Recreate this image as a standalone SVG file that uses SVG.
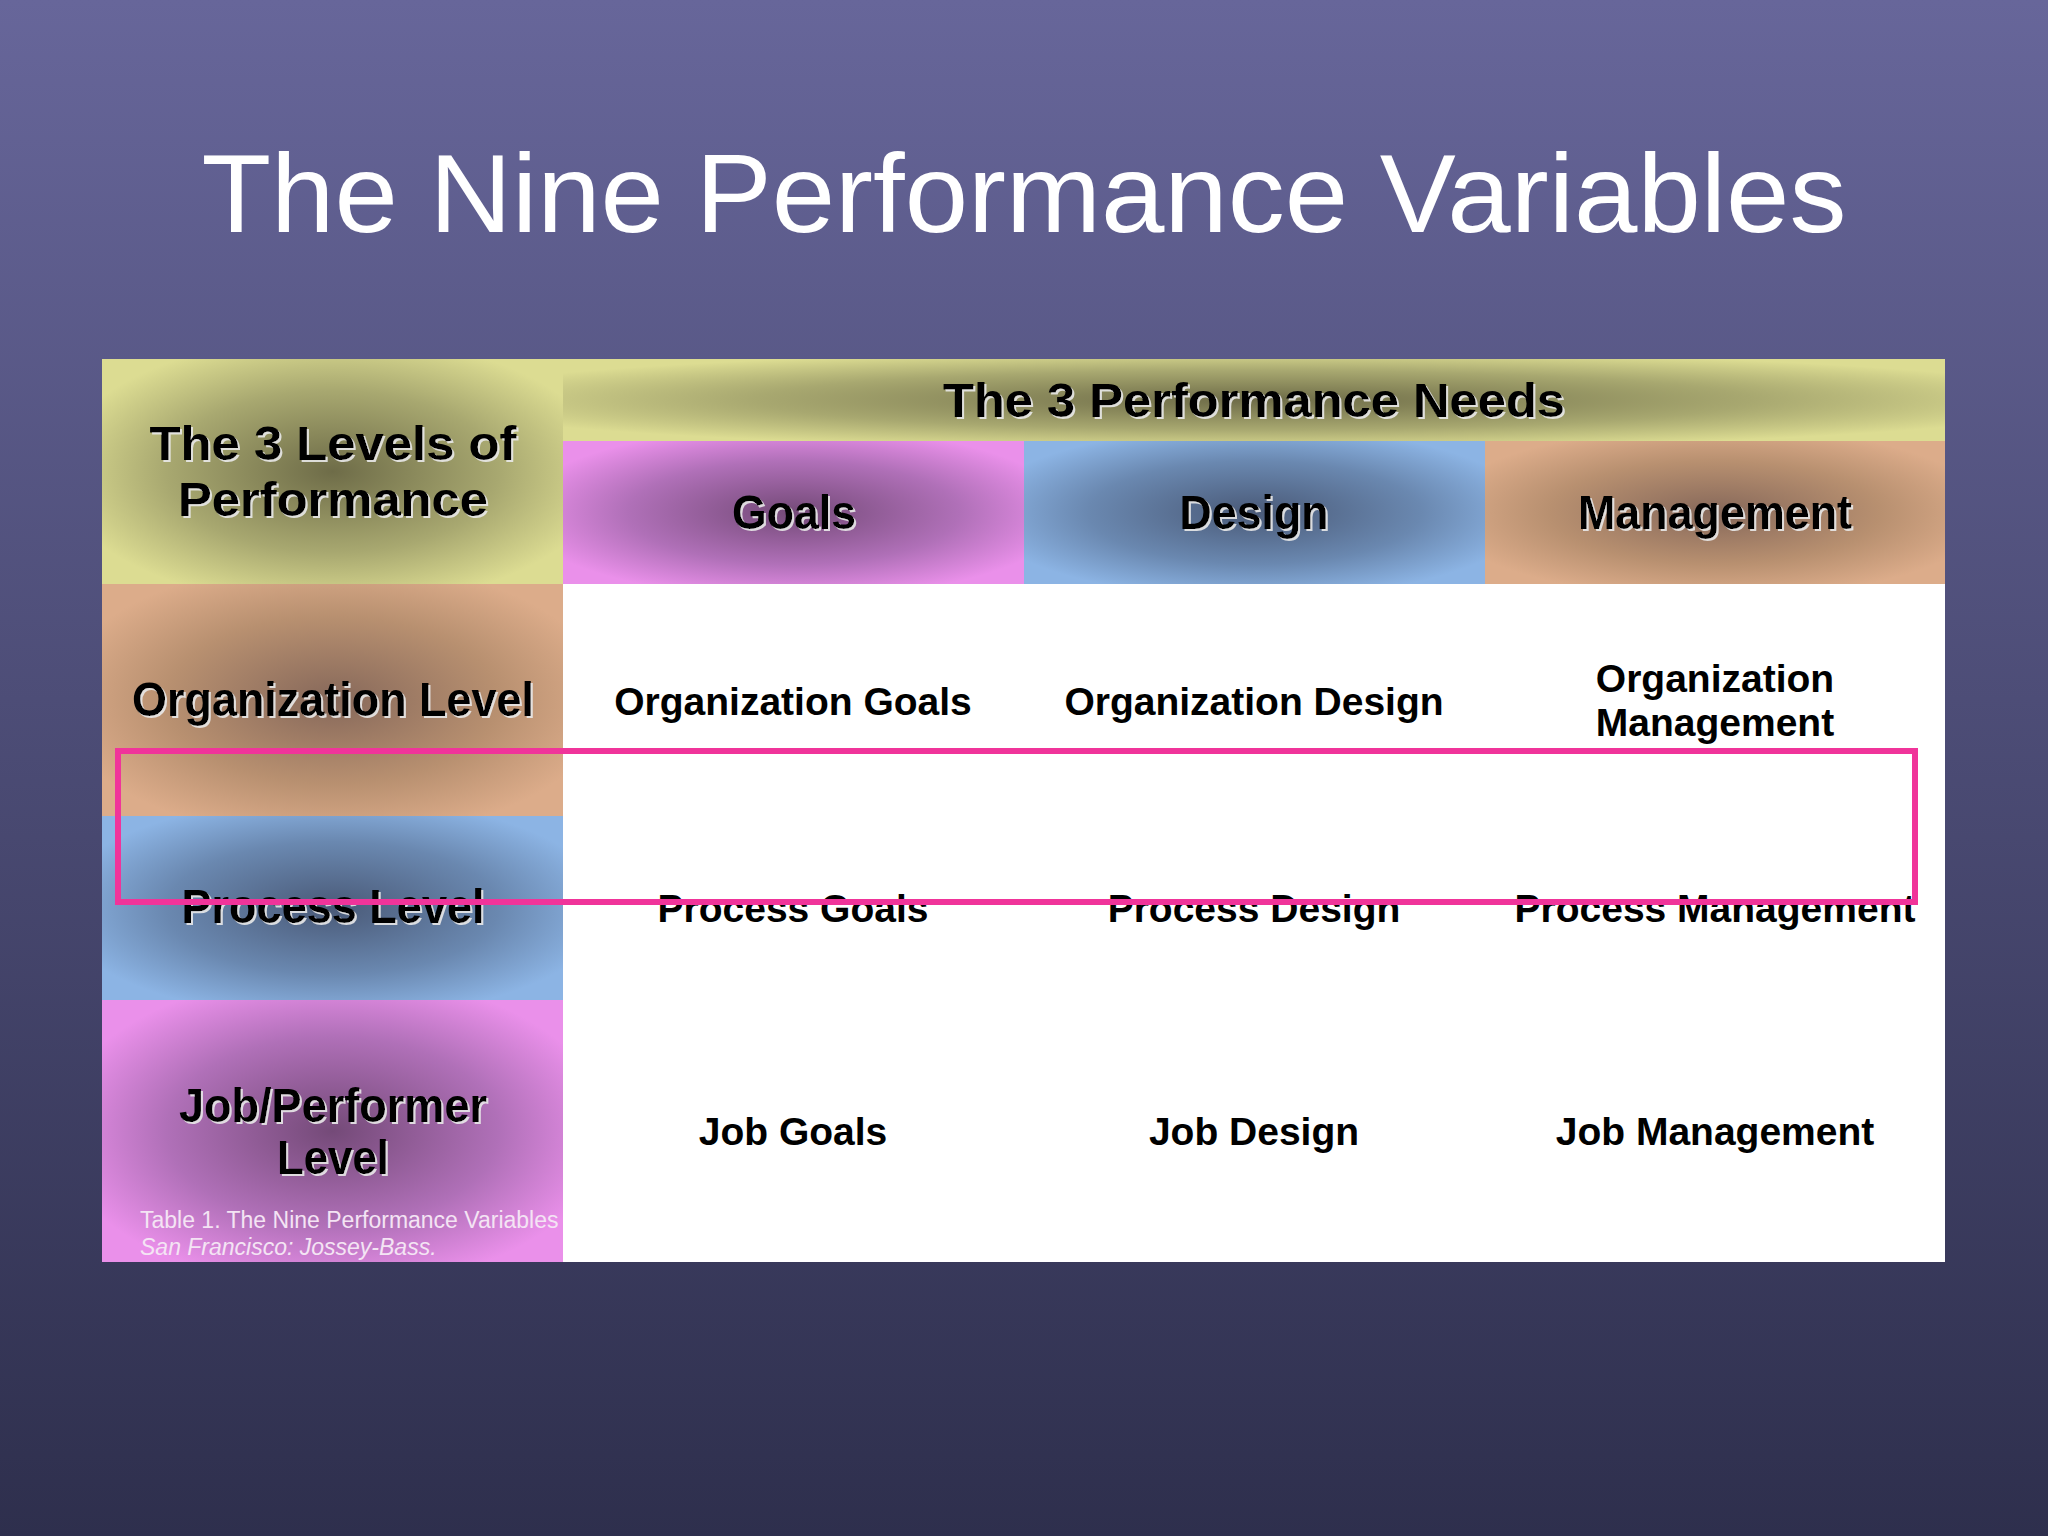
<svg xmlns="http://www.w3.org/2000/svg" width="2048" height="1536" viewBox="0 0 2048 1536">
<defs>
<linearGradient id="bg" x1="0" y1="0" x2="0" y2="1"><stop offset="0" stop-color="#67669a"/><stop offset="1" stop-color="#2e2f4d"/></linearGradient>
<radialGradient id="gy" cx="0.5" cy="0.5" r="0.6"><stop offset="0" stop-color="#6e6c48"/><stop offset="0.6" stop-color="#a8a870"/><stop offset="1" stop-color="#dcdc92"/></radialGradient>
<radialGradient id="gp" cx="0.5" cy="0.5" r="0.6"><stop offset="0" stop-color="#744a78"/><stop offset="0.6" stop-color="#b070b8"/><stop offset="1" stop-color="#ea90ea"/></radialGradient>
<radialGradient id="gb" cx="0.5" cy="0.5" r="0.6"><stop offset="0" stop-color="#4a5a78"/><stop offset="0.6" stop-color="#6a88b0"/><stop offset="1" stop-color="#8cb4e4"/></radialGradient>
<radialGradient id="gt" cx="0.5" cy="0.5" r="0.6"><stop offset="0" stop-color="#86685a"/><stop offset="0.6" stop-color="#b89070"/><stop offset="1" stop-color="#dcac8a"/></radialGradient>
<filter id="sh"><feDropShadow dx="2" dy="2" stdDeviation="0.5" flood-color="#e8e8e8" flood-opacity="0.9"/></filter>
</defs>
<style>
.h{font-family:"Liberation Sans",Arial,sans-serif;font-weight:bold;font-size:48px;fill:#000;text-anchor:middle;filter:url(#sh)}
.c{font-family:"Liberation Sans",Arial,sans-serif;font-weight:bold;font-size:39px;fill:#000;text-anchor:middle}
.cap{font-family:"Liberation Sans",Arial,sans-serif;font-size:23px;fill:#f4e4f4}
</style>
<rect width="2048" height="1536" fill="url(#bg)"/>
<text x="1024" y="232" font-family="'Liberation Sans',Arial,sans-serif" font-size="112" fill="#fff" text-anchor="middle" textLength="1645" lengthAdjust="spacingAndGlyphs">The Nine Performance Variables</text>
<g id="table">
<rect x="563" y="584" width="1382" height="678" fill="#fff"/>
<g id="levels-header"><rect x="102" y="359" width="461" height="225" fill="url(#gy)"/><text class="h" x="333" y="460" textLength="367" lengthAdjust="spacingAndGlyphs">The 3 Levels of</text><text class="h" x="333" y="516" textLength="310" lengthAdjust="spacingAndGlyphs">Performance</text></g>
<g id="needs-header"><rect x="563" y="359" width="1382" height="82" fill="url(#gy)"/><text class="h" x="1254" y="417" textLength="622" lengthAdjust="spacingAndGlyphs">The 3 Performance Needs</text></g>
<g id="goals"><rect x="563" y="441" width="461" height="143" fill="url(#gp)"/><text class="h" x="794" y="529" textLength="124" lengthAdjust="spacingAndGlyphs">Goals</text></g>
<g id="design"><rect x="1024" y="441" width="461" height="143" fill="url(#gb)"/><text class="h" x="1254" y="529" textLength="149" lengthAdjust="spacingAndGlyphs">Design</text></g>
<g id="management"><rect x="1485" y="441" width="460" height="143" fill="url(#gt)"/><text class="h" x="1715" y="529" textLength="274" lengthAdjust="spacingAndGlyphs">Management</text></g>
<g id="org-level"><rect x="102" y="584" width="461" height="232" fill="url(#gt)"/><text class="h" x="333" y="716" textLength="402" lengthAdjust="spacingAndGlyphs">Organization Level</text></g>
<g id="process-level"><rect x="102" y="816" width="461" height="184" fill="url(#gb)"/><text class="h" x="333" y="923" textLength="303" lengthAdjust="spacingAndGlyphs">Process Level</text></g>
<g id="job-level"><rect x="102" y="1000" width="461" height="262" fill="url(#gp)"/><text class="h" x="333" y="1122" textLength="308" lengthAdjust="spacingAndGlyphs">Job/Performer</text><text class="h" x="333" y="1174" textLength="112" lengthAdjust="spacingAndGlyphs">Level</text>
<text class="cap" x="140" y="1228">Table 1. The Nine Performance Variables</text><text class="cap" x="140" y="1255" font-style="italic">San Francisco: Jossey-Bass.</text></g>
<g id="org-goals"><text class="c" x="793" y="715">Organization Goals</text></g>
<g id="org-design"><text class="c" x="1254" y="715">Organization Design</text></g>
<g id="org-mgmt"><text class="c" x="1715" y="692">Organization</text><text class="c" x="1715" y="736">Management</text></g>
<g id="proc-goals"><text class="c" x="793" y="922">Process Goals</text></g>
<g id="proc-design"><text class="c" x="1254" y="922">Process Design</text></g>
<g id="proc-mgmt"><text class="c" x="1715" y="922">Process Management</text></g>
<g id="job-goals"><text class="c" x="793" y="1145">Job Goals</text></g>
<g id="job-design"><text class="c" x="1254" y="1145">Job Design</text></g>
<g id="job-mgmt"><text class="c" x="1715" y="1145">Job Management</text></g>
</g>
<g id="connectors"><rect x="118" y="751" width="1797" height="151" fill="none" stroke="#f0349a" stroke-width="6"/></g>
</svg>
